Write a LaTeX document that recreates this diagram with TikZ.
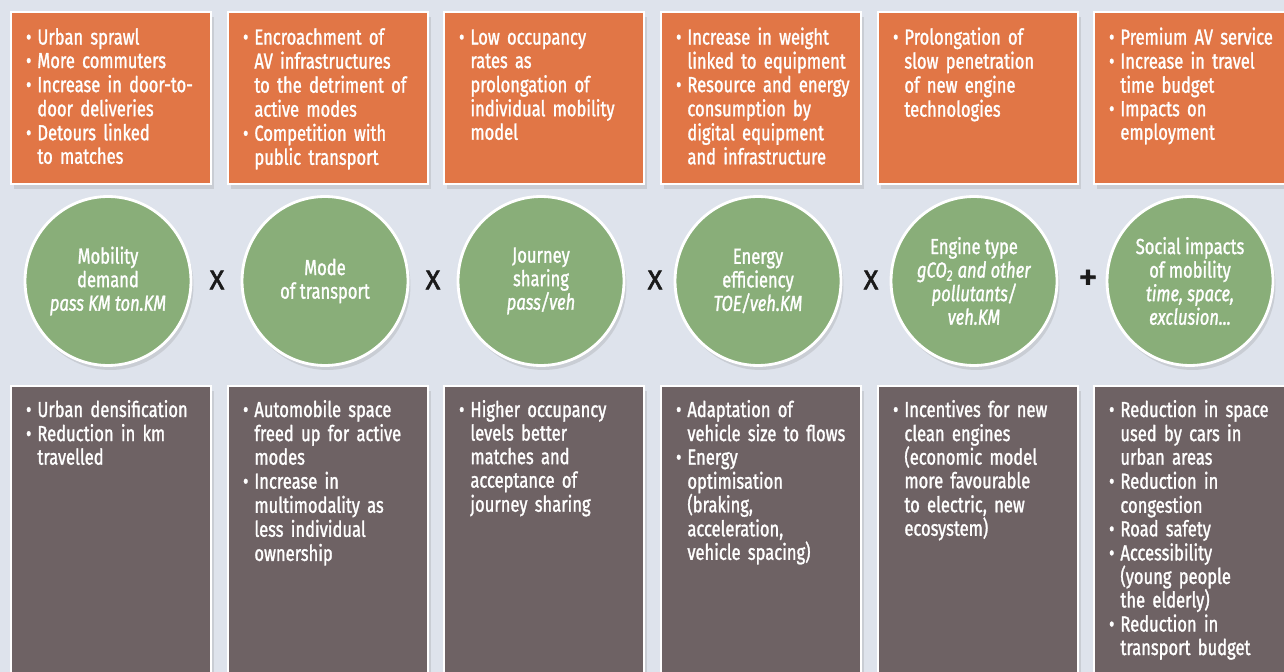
\documentclass[tikz,border=0pt]{standalone}
\usepackage{fontspec}
\setmainfont{Fira Sans}[FakeStretch=0.76, FakeBold=1.3]
\newfontfamily\opfont{Fira Sans}[FakeBold=2.2]
\usepackage{tikz}
\usetikzlibrary{positioning,shapes.geometric,shadows}
\definecolor{bgblue}{HTML}{DEE3EC}
\definecolor{drawbackorange}{HTML}{E17646}
\definecolor{factorgreen}{HTML}{89AE79}
\definecolor{benefitbrown}{HTML}{6E6264}
\definecolor{opblack}{HTML}{1A1A1A}

\begin{document}
\begin{tikzpicture}[
    x=0.02cm, y=-0.02cm,
    font=\fontsize{12.4}{13.4}\selectfont,
    block/.style={
		rectangle,
		anchor=north west,
		draw=white,
		line width=1.2pt,
		text=white,
		align=left,
		inner xsep=0.3cm,
		inner ysep=0pt,
		text width=3.4cm,
		drop shadow={opacity=0.22, shadow xshift=0.05cm, shadow yshift=-0.09cm}
	},
	drawback/.style={
		block,
		fill=drawbackorange,
		text height=0.65cm,
		text depth=2.79cm
	},
	benefit/.style={
		block,
		fill=benefitbrown,
		text height=0.62cm,
		text depth=5.7cm
	},
	factor/.style={
		ellipse,
		draw=white,
		line width=1.6pt,
		fill=factorgreen,
		text=white,
		align=center,
		inner sep=0pt,
		minimum width=3.32cm,
		minimum height=3.38cm,
		drop shadow={opacity=0.22, shadow xshift=0.05cm, shadow yshift=-0.09cm}
	},
	operator/.style={
		font=\opfont\fontsize{15.5}{15.5}\selectfont,
		text=opblack
	}
  ]
  \useasboundingbox (0,0) rectangle (1284,672);
  \clip (0,0) rectangle (1284,672);
  \fill [bgblue] (0,0) rectangle (1284,672);

  % top row: what goes wrong
  \node [drawback] (drawback1) at (10,11)
 {%
 \begin{tabular}[t]{@{}l@{\hspace{0.12cm}}l@{}}
  \textbullet & Urban sprawl\\
  \textbullet & More commuters\\
  \textbullet & Increase in door-to-\\
              & door deliveries\\
  \textbullet & Detours linked\\
              & to matches
 \end{tabular}
 };

  \node [drawback] (drawback2) at (227,11)
 {%
 \begin{tabular}[t]{@{}l@{\hspace{0.12cm}}l@{}}
  \textbullet & Encroachment of\\
              & AV infrastructures\\
              & to the detriment of\\
              & active modes\\
  \textbullet & Competition with\\
              & public transport
 \end{tabular}
 };

  \node [drawback] (drawback3) at (443,11)
 {%
 \begin{tabular}[t]{@{}l@{\hspace{0.12cm}}l@{}}
  \textbullet & Low occupancy\\
              & rates as\\
              & prolongation of\\
              & individual mobility\\
              & model
 \end{tabular}
 };

  \node [drawback] (drawback4) at (660,11)
 {%
 \begin{tabular}[t]{@{}l@{\hspace{0.12cm}}l@{}}
  \textbullet & Increase in weight\\
              & linked to equipment\\
  \textbullet & Resource and energy\\
              & consumption by\\
              & digital equipment\\
              & and infrastructure
 \end{tabular}
 };

  \node [drawback] (drawback5) at (877,11)
 {%
 \begin{tabular}[t]{@{}l@{\hspace{0.12cm}}l@{}}
  \textbullet & Prolongation of\\
              & slow penetration\\
              & of new engine\\
              & technologies
 \end{tabular}
 };

  \node [drawback] (drawback6) at (1093,11)
 {%
 \begin{tabular}[t]{@{}l@{\hspace{0.12cm}}l@{}}
  \textbullet & Premium AV service\\
  \textbullet & Increase in travel\\
              & time budget\\
  \textbullet & Impacts on\\
              & employment
 \end{tabular}
 };

  % middle row: the factors
  \node [factor] (factor1) at (108,281) {Mobility\\demand\\\textit{pass KM ton.KM}};
  \node [factor] (factor2) at (325,281) {Mode\\of transport};
  \node [factor] (factor3) at (541,281) {Journey\\sharing\\\textit{pass/veh}};
  \node [factor] (factor4) at (758,281) {Energy\\efficiency\\\textit{TOE/veh.KM}};
  \node [factor] (factor5) at (974,281) {Engine type\\\textit{gCO\textsubscript{2} and other}\\\textit{pollutants/}\\\textit{veh.KM}};
  \node [factor] (factor6) at (1190,281) {Social impacts\\of mobility\\\textit{time, space,}\\\textit{exclusion...}};

  \node [operator] (op1) at (217,280) {X};
  \node [operator] (op2) at (433,280) {X};
  \node [operator] (op3) at (655,280) {X};
  \node [operator] (op4) at (871,280) {X};
  \node [operator, font=\opfont\fontsize{22}{22}\selectfont] (op5) at (1088,280) {+};

  % bottom row: what goes right
  \node [benefit] (benefit1) at (10,385)
 {%
 \begin{tabular}[t]{@{}l@{\hspace{0.12cm}}l@{}}
  \textbullet & Urban densification\\
  \textbullet & Reduction in km\\
              & travelled
 \end{tabular}
 };

  \node [benefit] (benefit2) at (227,385)
 {%
 \begin{tabular}[t]{@{}l@{\hspace{0.12cm}}l@{}}
  \textbullet & Automobile space\\
              & freed up for active\\
              & modes\\
  \textbullet & Increase in\\
              & multimodality as\\
              & less individual\\
              & ownership
 \end{tabular}
 };

  \node [benefit] (benefit3) at (443,385)
 {%
 \begin{tabular}[t]{@{}l@{\hspace{0.12cm}}l@{}}
  \textbullet & Higher occupancy\\
              & levels better\\
              & matches and\\
              & acceptance of\\
              & journey sharing
 \end{tabular}
 };

  \node [benefit] (benefit4) at (660,385)
 {%
 \begin{tabular}[t]{@{}l@{\hspace{0.12cm}}l@{}}
  \textbullet & Adaptation of\\
              & vehicle size to flows\\
  \textbullet & Energy\\
              & optimisation\\
              & \smash{(braking,}\\
              & acceleration,\\
              & \smash{vehicle spacing)}
 \end{tabular}
 };

  \node [benefit] (benefit5) at (877,385)
 {%
 \begin{tabular}[t]{@{}l@{\hspace{0.12cm}}l@{}}
  \textbullet & Incentives for new\\
              & clean engines\\
              & \smash{(economic model}\\
              & more favourable\\
              & to electric, new\\
              & \smash{ecosystem)}
 \end{tabular}
 };

  \node [benefit] (benefit6) at (1093,385)
 {%
 \begin{tabular}[t]{@{}l@{\hspace{0.12cm}}l@{}}
  \textbullet & Reduction in space\\
              & used by cars in\\
              & urban areas\\
  \textbullet & Reduction in\\
              & congestion\\
  \textbullet & Road safety\\
  \textbullet & Accessibility\\
              & \smash{(young people}\\
              & \smash{the elderly)}\\
  \textbullet & Reduction in\\
              & transport budget
 \end{tabular}
 };

\end{tikzpicture}
\end{document}
